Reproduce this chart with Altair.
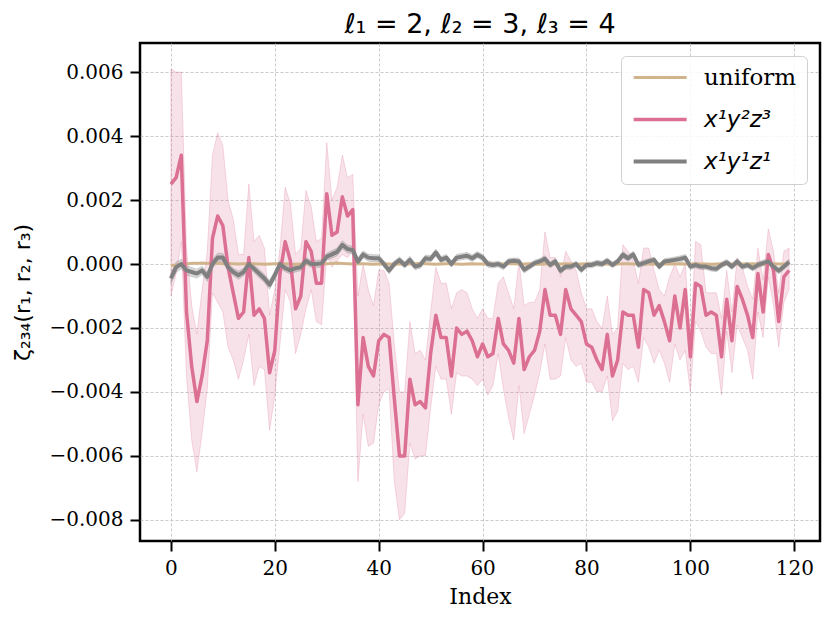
import altair as alt
import pandas as pd

idx = list(range(120))

series_names = ["uniform", "x¹y²z³", "x¹y¹z¹"]
series_colors = ["#D2B48C", "#DB7093", "#808080"]

pink_mean = [
    0.0025, 0.0027, 0.0034, -0.0015, -0.0032, -0.0043, -0.0035, -0.0024, 0.0008, 0.0015,
    0.0012, -0.0001, -0.0009, -0.0017, -0.0015, 0.0002, -0.0016, -0.0014, -0.0017, -0.0034,
    -0.0027, -0.0003, 0.0007, 0.0001, -0.0014, -0.0010, 0.0007, 0.0004, -0.0006, -0.0006,
    0.0022, 0.0009, 0.0010, 0.0021, 0.0015, 0.0017, -0.0044, -0.0023, -0.0032, -0.0035,
    -0.0024, -0.0022, -0.0023, -0.0042, -0.0060, -0.0060, -0.0036, -0.0044, -0.0043, -0.0045,
    -0.0028, -0.0016, -0.0023, -0.0023, -0.0035, -0.0020, -0.0022, -0.0021, -0.0024, -0.0029,
    -0.0025, -0.0029, -0.0028, -0.0017, -0.0025, -0.0027, -0.0031, -0.0017, -0.0033, -0.0029,
    -0.0027, -0.0021, -0.0008, -0.0016, -0.0016, -0.0022, -0.0008, -0.0014, -0.0016, -0.0018,
    -0.0025, -0.0026, -0.0030, -0.0033, -0.0022, -0.0035, -0.0030, -0.0015, -0.0016, -0.0016,
    -0.0026, -0.0008, -0.0009, -0.0016, -0.0013, -0.0018, -0.0024, -0.0010, -0.0020, -0.0008,
    -0.0029, -0.0006, -0.0007, -0.0016, -0.0015, -0.0016, -0.0029, -0.0011, -0.0024, -0.0007,
    -0.0011, -0.0016, -0.0023, -0.0003, -0.0015, 0.0003, -0.0002, -0.0018, -0.0004, -0.0002,
]

pink_hi = [
    0.0061, 0.0060, 0.0060, 0.0005, -0.0013, -0.0022, -0.0008, 0.0004, 0.0034, 0.0041,
    0.0037, 0.0020, 0.0014, 0.0003, 0.0003, 0.0025, 0.0007, 0.0009, 0.0005, -0.0016,
    -0.0008, 0.0005, 0.0024, 0.0019, 0.0003, 0.0005, 0.0023, 0.0018, 0.0007, 0.0008,
    0.0038, 0.0020, 0.0024, 0.0034, 0.0027, 0.0028, -0.0010, 0.0000, -0.0008, -0.0013,
    -0.0002, -0.0002, -0.0006, -0.0025, -0.0040, -0.0040, -0.0018, -0.0028, -0.0027, -0.0030,
    -0.0015, -0.0001, -0.0006, -0.0006, -0.0014, -0.0009, -0.0008, -0.0009, -0.0014, -0.0017,
    -0.0014, -0.0017, -0.0017, -0.0006, -0.0004, -0.0009, -0.0014, 0.0001, -0.0013, -0.0012,
    -0.0012, -0.0008, 0.0010, 0.0002, 0.0002, -0.0004, 0.0004, 0.0001, -0.0002, -0.0009,
    -0.0014, -0.0014, -0.0018, -0.0020, -0.0010, -0.0022, -0.0020, 0.0006, 0.0004, 0.0001,
    -0.0006, 0.0005, 0.0005, -0.0002, -0.0008, -0.0010, -0.0004, 0.0000, -0.0004, 0.0000,
    -0.0023, 0.0007, 0.0006, -0.0009, -0.0009, -0.0009, -0.0017, -0.0002, -0.0015, 0.0002,
    -0.0001, -0.0007, -0.0011, 0.0005, -0.0005, 0.0011, 0.0004, -0.0009, 0.0004, 0.0005,
]

pink_lo = [
    -0.0010, -0.0003, 0.0007, -0.0035, -0.0055, -0.0065, -0.0053, -0.0039, -0.0009, -0.0012,
    -0.0015, -0.0026, -0.0030, -0.0036, -0.0030, -0.0022, -0.0038, -0.0032, -0.0033, -0.0052,
    -0.0041, -0.0025, -0.0008, -0.0012, -0.0028, -0.0022, -0.0014, -0.0008, -0.0018, -0.0019,
    0.0003, -0.0001, 0.0001, 0.0003, 0.0002, 0.0004, -0.0068, -0.0047, -0.0057, -0.0056,
    -0.0044, -0.0040, -0.0039, -0.0068, -0.0080, -0.0078, -0.0056, -0.0061, -0.0060, -0.0060,
    -0.0045, -0.0032, -0.0036, -0.0036, -0.0047, -0.0034, -0.0035, -0.0035, -0.0036, -0.0038,
    -0.0036, -0.0041, -0.0038, -0.0028, -0.0039, -0.0048, -0.0055, -0.0038, -0.0053, -0.0047,
    -0.0041, -0.0034, -0.0025, -0.0036, -0.0036, -0.0035, -0.0023, -0.0030, -0.0032, -0.0031,
    -0.0037, -0.0037, -0.0040, -0.0040, -0.0035, -0.0049, -0.0046, -0.0031, -0.0033, -0.0032,
    -0.0037, -0.0023, -0.0026, -0.0031, -0.0027, -0.0031, -0.0037, -0.0025, -0.0030, -0.0027,
    -0.0040, -0.0018, -0.0021, -0.0026, -0.0028, -0.0028, -0.0041, -0.0021, -0.0034, -0.0019,
    -0.0023, -0.0027, -0.0036, -0.0015, -0.0023, -0.0004, -0.0013, -0.0026, -0.0012, -0.0008,
]

gray_mean = [
    -0.00045, -0.0001, 0.0, -0.0002, -0.00025, -0.0003, -0.0002, -0.0004, 0.0, 0.0002,
    0.0002, -0.0001, -0.00025, -0.00035, -0.00025, 0.0, -0.00015, -0.0003, -0.00045, -0.00065,
    -0.00035, 0.0, -0.00013, -0.0002, -0.00013, -0.0001, 0.0001, 0.0, 0.0, 0.00002,
    0.00023, 0.0003, 0.00038, 0.0006, 0.00047, 0.00044, 0.00007, 0.0003, 0.0002, 0.00018,
    0.00018, 0.0, -0.0002, 0.0, 0.00012, -0.00003, 0.00013, -0.00008, -0.00003, 0.00018,
    0.00016, 0.00036, 0.00013, 0.0002, 0.0, 0.0002, 0.00023, 0.00026, 0.00018, 0.00029,
    0.0002, 0.0, -0.00003, 0.0, -0.00008, 0.00008, 0.0001, 0.00008, -0.00018, -0.00008,
    0.00003, 0.00008, 0.00016, -0.00003, 0.00008, -0.00021, -0.00008, -0.00008, 0.0, -0.00018,
    -0.00003, -0.00003, 0.00003, 0.0, 0.0001, -0.00003, 0.00008, 0.00029, 0.00018, 0.0003,
    -0.00003, 0.00003, 0.00008, 0.00013, -0.00008, 0.00008, 0.0001, 0.00013, 0.00016, 0.0002,
    -0.00008, -0.00003, -0.00008, -0.00008, -0.00013, -0.00015, -0.00003, 0.00005, -0.00008, 0.00008,
    -0.00008, -0.00003, -0.00013, -0.00003, 0.00003, 0.00008, -0.00008, -0.00021, -0.00008, 0.00006,
]

gray_err = [
    0.00016, 0.00016, 0.00015, 0.00015, 0.00014, 0.00014, 0.00013, 0.00014, 0.00013, 0.00014,
    0.00013, 0.00012, 0.00012, 0.00013, 0.00012, 0.00012, 0.00012, 0.00013, 0.00013, 0.00014,
    0.00013, 0.00012, 0.00011, 0.00011, 0.00012, 0.00011, 0.00011, 0.00011, 0.00012, 0.00011,
    0.00011, 0.00012, 0.00012, 0.00013, 0.00012, 0.00012, 0.00012, 0.00011, 0.00011, 0.00011,
    0.00011, 0.00010, 0.00011, 0.00010, 0.00010, 0.00010, 0.00011, 0.00010, 0.00010, 0.00010,
    0.00010, 0.00011, 0.00010, 0.00010, 0.00010, 0.00010, 0.00010, 0.00010, 0.00010, 0.00010,
    0.00010, 0.00010, 0.00009, 0.00009, 0.00010, 0.00009, 0.00009, 0.00010, 0.00010, 0.00009,
    0.00009, 0.00009, 0.00010, 0.00009, 0.00009, 0.00010, 0.00009, 0.00009, 0.00009, 0.00010,
    0.00009, 0.00009, 0.00009, 0.00009, 0.00009, 0.00009, 0.00009, 0.00010, 0.00009, 0.00010,
    0.00009, 0.00009, 0.00009, 0.00009, 0.00009, 0.00009, 0.00009, 0.00009, 0.00009, 0.00010,
    0.00009, 0.00009, 0.00009, 0.00009, 0.00009, 0.00009, 0.00009, 0.00009, 0.00009, 0.00009,
    0.00009, 0.00009, 0.00009, 0.00009, 0.00009, 0.00009, 0.00009, 0.00010, 0.00009, 0.00009,
]

tan_mean = [
    -0.00005, -0.00003, 0.00000, 0.00001, 0.00002, 0.00002, 0.00003, 0.00002, 0.00003, 0.00002,
    0.00001, 0.00002, 0.00001, 0.00000, 0.00001, 0.00002, 0.00001, 0.00000, -0.00001, 0.00000,
    0.00001, 0.00002, 0.00001, 0.00000, -0.00001, 0.00000, 0.00001, 0.00002, 0.00001, 0.00000,
    0.00001, 0.00002, 0.00003, 0.00002, 0.00001, 0.00000, 0.00001, 0.00001, 0.00000, -0.00001,
    0.00000, 0.00001, 0.00000, -0.00001, 0.00000, 0.00001, 0.00000, 0.00001, 0.00002, 0.00001,
    0.00000, -0.00001, 0.00000, 0.00001, 0.00001, 0.00000, -0.00001, 0.00000, 0.00001, 0.00000,
    0.00000, 0.00001, 0.00000, -0.00001, 0.00000, 0.00001, 0.00001, 0.00000, 0.00000, 0.00001,
    0.00000, -0.00001, 0.00000, 0.00001, 0.00000, 0.00000, 0.00001, 0.00000, -0.00001, 0.00000,
    0.00001, 0.00000, 0.00000, 0.00001, 0.00000, -0.00001, 0.00000, 0.00001, 0.00001, 0.00000,
    0.00000, 0.00001, 0.00000, -0.00001, 0.00000, 0.00001, 0.00000, 0.00000, 0.00001, 0.00000,
    0.00000, 0.00001, 0.00000, 0.00000, -0.00001, 0.00000, 0.00001, 0.00000, 0.00000, 0.00001,
    0.00000, 0.00000, 0.00001, 0.00000, -0.00001, 0.00000, 0.00001, 0.00000, 0.00000, 0.00001,
]

x_ticks = [0, 20, 40, 60, 80, 100, 120]
y_ticks = [-0.008, -0.006, -0.004, -0.002, 0.0, 0.002, 0.004, 0.006]

rows = []
for name, vals in zip(series_names, [tan_mean, pink_mean, gray_mean]):
    for i, v in zip(idx, vals):
        rows.append({"idx": i, "series": name, "value": v})
lines_df = pd.DataFrame(rows)

band_df = pd.DataFrame({
    "idx": idx,
    "pink_lo": pink_lo,
    "pink_hi": pink_hi,
    "gray_lo": [m - e for m, e in zip(gray_mean, gray_err)],
    "gray_hi": [m + e for m, e in zip(gray_mean, gray_err)],
})

x_scale = alt.Scale(domain=[-5.95, 124.95], nice=False, zero=False)
y_scale = alt.Scale(domain=[-0.00866, 0.00691], nice=False, zero=False)

x_enc = alt.X("idx:Q", scale=x_scale, title="Index",
              axis=alt.Axis(values=x_ticks, format="d", titleFont="DejaVu Serif",
                            titleFontSize=22, titlePadding=8))

pink_band = alt.Chart(band_df).mark_area(
    color="#DB7093", fillOpacity=0.2, stroke="#DB7093", strokeOpacity=0.25, strokeWidth=1
).encode(
    x=x_enc,
    y=alt.Y("pink_lo:Q", scale=y_scale),
    y2="pink_hi:Q",
)

gray_band = alt.Chart(band_df).mark_area(
    color="#808080", fillOpacity=0.3, stroke="#808080", strokeOpacity=0.3, strokeWidth=1
).encode(
    x=alt.X("idx:Q", scale=x_scale),
    y=alt.Y("gray_lo:Q", scale=y_scale),
    y2="gray_hi:Q",
)

label_font = "datum.label == 'uniform' ? 'DejaVu Serif' : 'DejaVu Sans'"
label_style = "datum.label == 'uniform' ? 'normal' : 'italic'"

lines = alt.Chart(lines_df).mark_line(strokeJoin="round").encode(
    x=alt.X("idx:Q", scale=x_scale),
    y=alt.Y("value:Q", scale=y_scale, title="ζ₂₃₄(r₁, r₂, r₃)",
            axis=alt.Axis(values=y_ticks, format=".3f", titleFont="DejaVu Sans",
                          titleFontSize=22, titlePadding=14)),
    color=alt.Color(
        "series:N",
        scale=alt.Scale(domain=series_names, range=series_colors),
        sort=series_names,
        legend=alt.Legend(
            title=None, orient="top-right", offset=13,
            symbolType="M-1,0H5", symbolSize=312, symbolStrokeWidth=3.5,
            labelFontSize=23, labelColor="black",
            labelFont={"expr": label_font},
            labelFontStyle={"expr": label_style},
            labelOffset=50, fillColor="rgba(255,255,255,0.85)", strokeColor="#d0d0d0",
            cornerRadius=5, padding=10, rowPadding=18,
        ),
    ),
    strokeWidth=alt.StrokeWidth(
        "series:N", scale=alt.Scale(domain=series_names, range=[3, 4, 4.5]), legend=None
    ),
)

chart = alt.layer(pink_band, gray_band, lines).properties(
    width=680,
    height=498,
    title=alt.Title("ℓ₁ = 2, ℓ₂ = 3, ℓ₃ = 4", font="DejaVu Sans", fontSize=27,
                    fontWeight="normal", anchor="middle", offset=4, color="black"),
    autosize=alt.AutoSizeParams(type="none"),
    padding={"left": 132, "top": 35, "right": 3, "bottom": 70},
).configure_view(
    stroke="black", strokeWidth=2.5
).configure_axis(
    domain=False,
    grid=True, gridColor="#bdbdbd", gridDash=[3, 2], gridWidth=0.8,
    ticks=True, tickSize=10, tickWidth=2, tickColor="black",
    labelFont="DejaVu Serif", labelFontSize=20, labelColor="black", labelPadding=7,
    labelFlush=False, labelOverlap=False,
    titleColor="black", titleFontWeight="normal",
)

chart.save("out.html", embed_options={"renderer": "svg", "actions": False})
